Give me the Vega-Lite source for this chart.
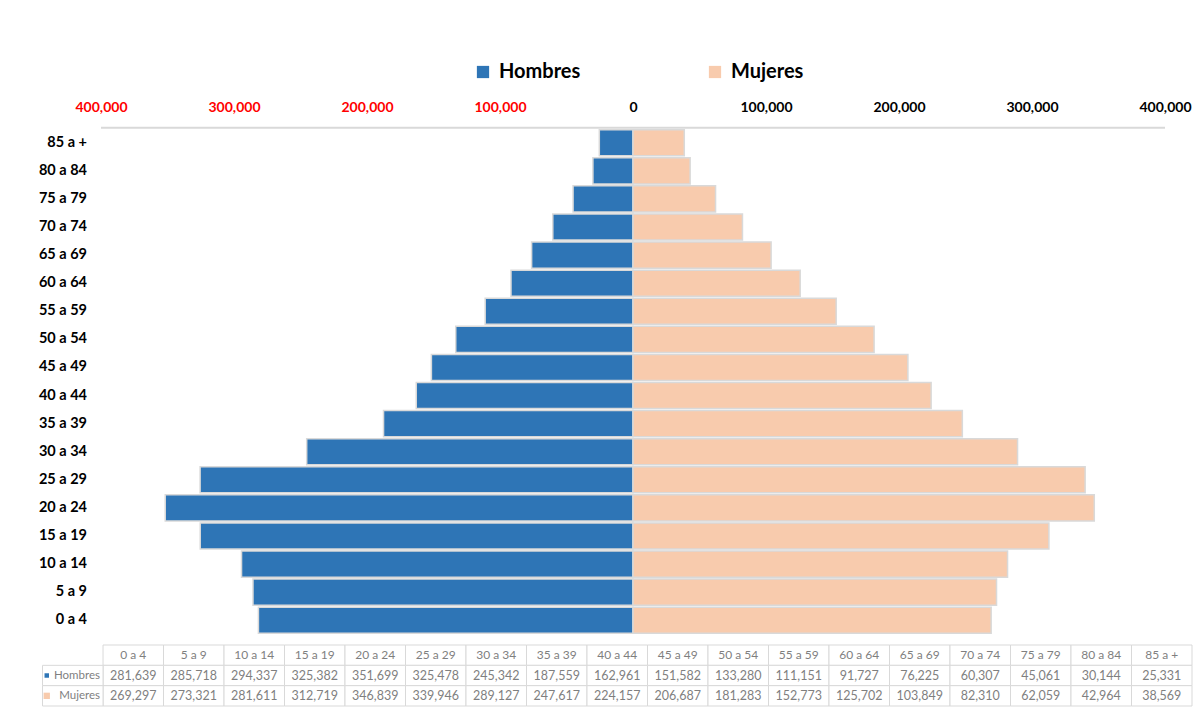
{
  "$schema": "https://vega.github.io/schema/vega-lite/v6.json",
  "background": "white",
  "padding": {"left": 28, "top": 62, "right": 2, "bottom": 10},
  "config": {"view": {"stroke": null}},
  "datasets": {
    "pop": [
      {"edad": "0 a 4", "sexo": "Hombres", "poblacion": 281639},
      {"edad": "5 a 9", "sexo": "Hombres", "poblacion": 285718},
      {"edad": "10 a 14", "sexo": "Hombres", "poblacion": 294337},
      {"edad": "15 a 19", "sexo": "Hombres", "poblacion": 325382},
      {"edad": "20 a 24", "sexo": "Hombres", "poblacion": 351699},
      {"edad": "25 a 29", "sexo": "Hombres", "poblacion": 325478},
      {"edad": "30 a 34", "sexo": "Hombres", "poblacion": 245342},
      {"edad": "35 a 39", "sexo": "Hombres", "poblacion": 187559},
      {"edad": "40 a 44", "sexo": "Hombres", "poblacion": 162961},
      {"edad": "45 a 49", "sexo": "Hombres", "poblacion": 151582},
      {"edad": "50 a 54", "sexo": "Hombres", "poblacion": 133280},
      {"edad": "55 a 59", "sexo": "Hombres", "poblacion": 111151},
      {"edad": "60 a 64", "sexo": "Hombres", "poblacion": 91727},
      {"edad": "65 a 69", "sexo": "Hombres", "poblacion": 76225},
      {"edad": "70 a 74", "sexo": "Hombres", "poblacion": 60307},
      {"edad": "75 a 79", "sexo": "Hombres", "poblacion": 45061},
      {"edad": "80 a 84", "sexo": "Hombres", "poblacion": 30144},
      {"edad": "85 a +", "sexo": "Hombres", "poblacion": 25331},
      {"edad": "0 a 4", "sexo": "Mujeres", "poblacion": 269297},
      {"edad": "5 a 9", "sexo": "Mujeres", "poblacion": 273321},
      {"edad": "10 a 14", "sexo": "Mujeres", "poblacion": 281611},
      {"edad": "15 a 19", "sexo": "Mujeres", "poblacion": 312719},
      {"edad": "20 a 24", "sexo": "Mujeres", "poblacion": 346839},
      {"edad": "25 a 29", "sexo": "Mujeres", "poblacion": 339946},
      {"edad": "30 a 34", "sexo": "Mujeres", "poblacion": 289127},
      {"edad": "35 a 39", "sexo": "Mujeres", "poblacion": 247617},
      {"edad": "40 a 44", "sexo": "Mujeres", "poblacion": 224157},
      {"edad": "45 a 49", "sexo": "Mujeres", "poblacion": 206687},
      {"edad": "50 a 54", "sexo": "Mujeres", "poblacion": 181283},
      {"edad": "55 a 59", "sexo": "Mujeres", "poblacion": 152773},
      {"edad": "60 a 64", "sexo": "Mujeres", "poblacion": 125702},
      {"edad": "65 a 69", "sexo": "Mujeres", "poblacion": 103849},
      {"edad": "70 a 74", "sexo": "Mujeres", "poblacion": 82310},
      {"edad": "75 a 79", "sexo": "Mujeres", "poblacion": 62059},
      {"edad": "80 a 84", "sexo": "Mujeres", "poblacion": 42964},
      {"edad": "85 a +", "sexo": "Mujeres", "poblacion": 38569}
    ]
  },
  "spacing": 9,
  "resolve": {"scale": {"color": "independent"}},
  "vconcat": [
    {
      "width": 1164,
      "height": 507,
      "data": {"name": "pop"},
      "layer": [
        {
          "transform": [
            {"calculate": "datum.sexo === 'Hombres' ? -datum.poblacion : datum.poblacion", "as": "valor"}
          ],
          "mark": {"type": "bar", "stroke": "#D9D9D9", "strokeWidth": 1.5},
          "encoding": {
            "x": {
              "field": "valor",
              "type": "quantitative",
              "stack": null,
              "scale": {"domain": [-454887, 420301], "nice": false, "zero": false},
              "axis": {
                "orient": "top",
                "title": null,
                "values": [-400000, -300000, -200000, -100000, 0, 100000, 200000, 300000, 400000],
                "labelExpr": "format(abs(datum.value), ',')",
                "labelColor": {"condition": {"test": "datum.value < 0", "value": "#FF0000"}, "value": "#000000"},
                "labelFont": "Lato",
                "labelFontSize": 14,
                "labelFontWeight": "bold",
                "labelPadding": 14,
                "labelFlush": false,
                "labelOverlap": false,
                "ticks": false,
                "domain": false,
                "grid": false
              }
            },
            "y": {
              "field": "edad",
              "type": "nominal",
              "scale": {
                "domain": ["85 a +", "80 a 84", "75 a 79", "70 a 74", "65 a 69", "60 a 64", "55 a 59", "50 a 54", "45 a 49", "40 a 44", "35 a 39", "30 a 34", "25 a 29", "20 a 24", "15 a 19", "10 a 14", "5 a 9", "0 a 4"],
                "paddingInner": 0.07,
                "paddingOuter": 0.06
              },
              "axis": null
            },
            "color": {
              "field": "sexo",
              "type": "nominal",
              "scale": {"domain": ["Hombres", "Mujeres"], "range": ["#2E75B6", "#F8CBAD"]},
              "legend": {
                "title": null,
                "orient": "none",
                "legendX": 445,
                "legendY": -66,
                "direction": "horizontal",
                "columns": 2,
                "columnPadding": 124,
                "symbolType": "square",
                "symbolSize": 150,
                "symbolStrokeWidth": 0,
                "symbolOpacity": 1,
                "labelFont": "Lato",
                "labelFontSize": 20,
                "labelFontWeight": "bold",
                "labelColor": "#000000",
                "labelOffset": 6
              }
            }
          }
        },
        {
          "transform": [{"filter": "datum.sexo === 'Hombres'"}],
          "mark": {"type": "text", "align": "right", "baseline": "middle", "dx": -14, "font": "Lato", "fontSize": 14.5, "fontWeight": "bold", "color": "#000000"},
          "encoding": {
            "x": {"datum": -400000, "type": "quantitative"},
            "y": {"field": "edad", "type": "nominal"},
            "text": {"field": "edad"}
          }
        },
        {
          "data": {"values": [{}]},
          "mark": {"type": "rule", "color": "#D9D9D9", "strokeWidth": 2},
          "encoding": {
            "x": {"datum": -400000, "type": "quantitative"},
            "x2": {"datum": 400000},
            "y": {"datum": "85 a +", "type": "nominal", "bandPosition": -0.07}
          }
        }
      ]
    },
    {
      "width": 1164,
      "height": 61,
      "data": {"name": "pop"},
      "layer": [
        {
          "transform": [{"filter": "datum.sexo === 'Hombres'"}],
          "mark": {"type": "rect", "fill": "white", "stroke": "#D9D9D9", "strokeWidth": 1},
          "encoding": {
            "x": {
              "field": "edad",
              "type": "nominal",
              "scale": {
                "domain": ["lab", "0 a 4", "5 a 9", "10 a 14", "15 a 19", "20 a 24", "25 a 29", "30 a 34", "35 a 39", "40 a 44", "45 a 49", "50 a 54", "55 a 59", "60 a 64", "65 a 69", "70 a 74", "75 a 79", "80 a 84", "85 a +"],
                "paddingInner": 0,
                "paddingOuter": 0.12,
                "align": 1
              },
              "axis": null
            },
            "y": {
              "datum": "edad",
              "type": "nominal",
              "scale": {"domain": ["edad", "Hombres", "Mujeres"], "paddingInner": 0, "paddingOuter": 0},
              "axis": null
            }
          }
        },
        {
          "mark": {"type": "rect", "fill": "white", "stroke": "#D9D9D9", "strokeWidth": 1},
          "encoding": {
            "x": {"field": "edad", "type": "nominal"},
            "y": {"field": "sexo", "type": "nominal"}
          }
        },
        {
          "transform": [{"filter": "datum.edad === '0 a 4'"}],
          "mark": {"type": "rect", "fill": "white", "stroke": "#D9D9D9", "strokeWidth": 1},
          "encoding": {
            "x": {"datum": "lab", "type": "nominal"},
            "y": {"field": "sexo", "type": "nominal"}
          }
        },
        {
          "transform": [{"filter": "datum.sexo === 'Hombres'"}],
          "mark": {"type": "text", "font": "Lato", "fontSize": 12, "color": "#7F7F7F", "baseline": "middle"},
          "encoding": {
            "x": {"field": "edad", "type": "nominal"},
            "y": {"datum": "edad", "type": "nominal"},
            "text": {"field": "edad"}
          }
        },
        {
          "mark": {"type": "text", "font": "Lato", "fontSize": 12.5, "color": "#7F7F7F", "baseline": "middle"},
          "encoding": {
            "x": {"field": "edad", "type": "nominal"},
            "y": {"field": "sexo", "type": "nominal"},
            "text": {"field": "poblacion", "format": ","}
          }
        },
        {
          "transform": [{"filter": "datum.edad === '0 a 4'"}],
          "mark": {"type": "text", "font": "Lato", "fontSize": 11.5, "color": "#7F7F7F", "baseline": "middle", "align": "right", "dx": -3},
          "encoding": {
            "x": {"datum": "lab", "type": "nominal", "bandPosition": 1},
            "y": {"field": "sexo", "type": "nominal"},
            "text": {"field": "sexo"}
          }
        },
        {
          "transform": [{"filter": "datum.edad === '0 a 4' && datum.sexo === 'Hombres'"}],
          "mark": {"type": "point", "shape": "square", "filled": true, "color": "#2E75B6", "size": 20, "opacity": 1},
          "encoding": {
            "x": {"datum": "lab", "type": "nominal", "bandPosition": 0.07},
            "y": {"field": "sexo", "type": "nominal"}
          }
        },
        {
          "transform": [{"filter": "datum.edad === '0 a 4' && datum.sexo === 'Mujeres'"}],
          "mark": {"type": "point", "shape": "square", "filled": true, "color": "#F8CBAD", "size": 40, "opacity": 1},
          "encoding": {
            "x": {"datum": "lab", "type": "nominal", "bandPosition": 0.07},
            "y": {"field": "sexo", "type": "nominal"}
          }
        }
      ]
    }
  ]
}
